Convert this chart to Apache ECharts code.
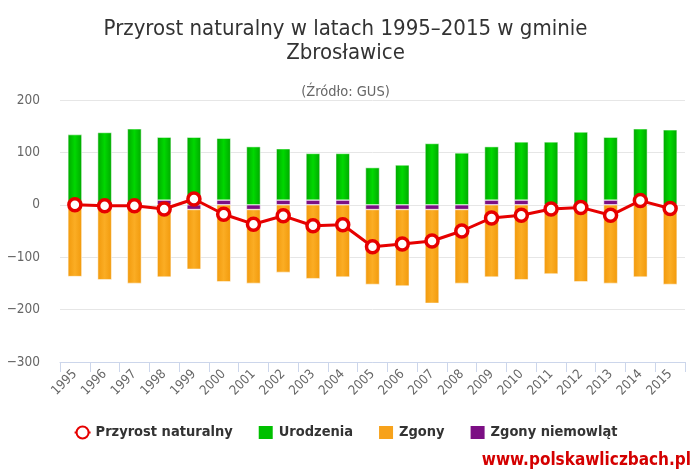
<!DOCTYPE html>
<html>
<head>
<meta charset="utf-8">
<script src="https://cdn.jsdelivr.net/npm/echarts@6/dist/echarts.min.js"></script>
<style>
html,body{margin:0;padding:0;background:#fff;}
#chart{width:691px;height:470px;}
</style>
</head>
<body>
<div id="chart"></div>
<script>
var years = ['1995','1996','1997','1998','1999','2000','2001','2002','2003','2004','2005','2006','2007','2008','2009','2010','2011','2012','2013','2014','2015'];
var przyrost = [0, -2, -2, -8, 11, -18, -37, -21, -40, -38, -80, -75, -69, -50, -25, -20, -8, -5, -20, 8, -7];
var urodzenia = [134, 138, 145, 120, 129, 118, 111, 98, 89, 89, 71, 76, 117, 99, 102, 111, 120, 139, 120, 145, 143];
var zgony = [-137, -143, -150, -138, -114, -147, -141, -129, -141, -138, -143, -146, -179, -141, -138, -143, -132, -147, -150, -138, -152];
var zgonyNiemowlat = [0, 0, 0, 9, -9, 9, -9, 9, 9, 9, -9, -9, -9, -9, 9, 9, 0, 0, 9, 0, 0];
var yTicks = [-300, -200, -100, 0, 100, 200];

var FONT = "'DejaVu Sans Condensed', 'Liberation Sans Narrow', 'DejaVu Sans', sans-serif";

var green = {type:'linear', x:0, y:0, x2:1, y2:0, colorStops:[
  {offset:0, color:'#00a800'}, {offset:0.5, color:'#00d800'}, {offset:1, color:'#00a800'}]};
var orange = {type:'linear', x:0, y:0, x2:1, y2:0, colorStops:[
  {offset:0, color:'#f29a0c'}, {offset:0.5, color:'#fbad24'}, {offset:1, color:'#f29a0c'}]};
var purple = '#7c0f84';

var chart = echarts.init(document.getElementById('chart'), null, {renderer:'canvas'});
chart.setOption({
  backgroundColor: '#ffffff',
  animation: false,
  title: [{
    text: 'Przyrost naturalny w latach 1995–2015 w gminie\nZbrosławice',
    left: 'center', top: 12,
    textStyle: {fontFamily: FONT, fontSize: 22, fontWeight: 'normal', color: '#333333', lineHeight: 24}
  }, {
    text: '(Źródło: GUS)',
    left: 'center', top: 80,
    textStyle: {fontFamily: FONT, fontSize: 14.5, fontWeight: 'normal', color: '#666666'}
  }],
  legend: {
    bottom: 24, left: 'center',
    itemGap: 24, itemWidth: 16, itemHeight: 15,
    textStyle: {fontFamily: FONT, fontSize: 14.5, fontWeight: 'bold', color: '#333333'},
    data: [
      {name: 'Przyrost naturalny'},
      {name: 'Urodzenia', icon: 'rect', itemStyle: {color: '#00c000'}},
      {name: 'Zgony', icon: 'rect', itemStyle: {color: '#f7a21b'}},
      {name: 'Zgony niemowląt', icon: 'rect', itemStyle: {color: purple}}
    ]
  },
  grid: {left: 60, right: 6, top: 100, height: 262},
  xAxis: {
    type: 'category', data: years, boundaryGap: true,
    axisLine: {onZero: false, lineStyle: {color: '#ccd6eb'}},
    axisTick: {show: true, length: 10, lineStyle: {color: '#ccd6eb'}},
    axisLabel: {rotate: 45, fontFamily: FONT, fontSize: 13, color: '#666666', margin: 10, interval: 0,
      padding: [0, 0, 0, 0]}
  },
  yAxis: {
    type: 'value', min: yTicks[0], max: yTicks[yTicks.length - 1], interval: 100,
    axisLine: {show: false}, axisTick: {show: false},
    splitLine: {lineStyle: {color: '#e6e6e6'}},
    axisLabel: {fontFamily: FONT, fontSize: 13.5, color: '#666666', margin: 20,
      formatter: function (v) { return v < 0 ? '−' + Math.abs(v) : String(v); }}
  },
  series: [
    {name: 'Zgony niemowląt', type: 'bar', stack: 's', data: zgonyNiemowlat, barWidth: 14,
     itemStyle: {color: purple, borderColor: '#ffffff', borderWidth: 0.5}},
    {name: 'Urodzenia', type: 'bar', stack: 's', data: urodzenia, barWidth: 14,
     itemStyle: {color: green, borderColor: '#ffffff', borderWidth: 0.5}},
    {name: 'Zgony', type: 'bar', stack: 's', data: zgony, barWidth: 14,
     itemStyle: {color: orange, borderColor: '#ffffff', borderWidth: 0.5}},
    {name: 'Przyrost naturalny', type: 'line', data: przyrost, z: 10,
     symbol: 'circle', symbolSize: 12,
     lineStyle: {color: '#e60000', width: 3},
     itemStyle: {color: '#ffffff', borderColor: '#e60000', borderWidth: 3.5}}
  ],
  graphic: [{
    type: 'text', right: 0, bottom: 1,
    style: {text: 'www.polskawliczbach.pl', fontFamily: FONT, fontSize: 17, fontWeight: 'bold', fill: '#d40000'}
  }]
});
</script>
</body>
</html>
